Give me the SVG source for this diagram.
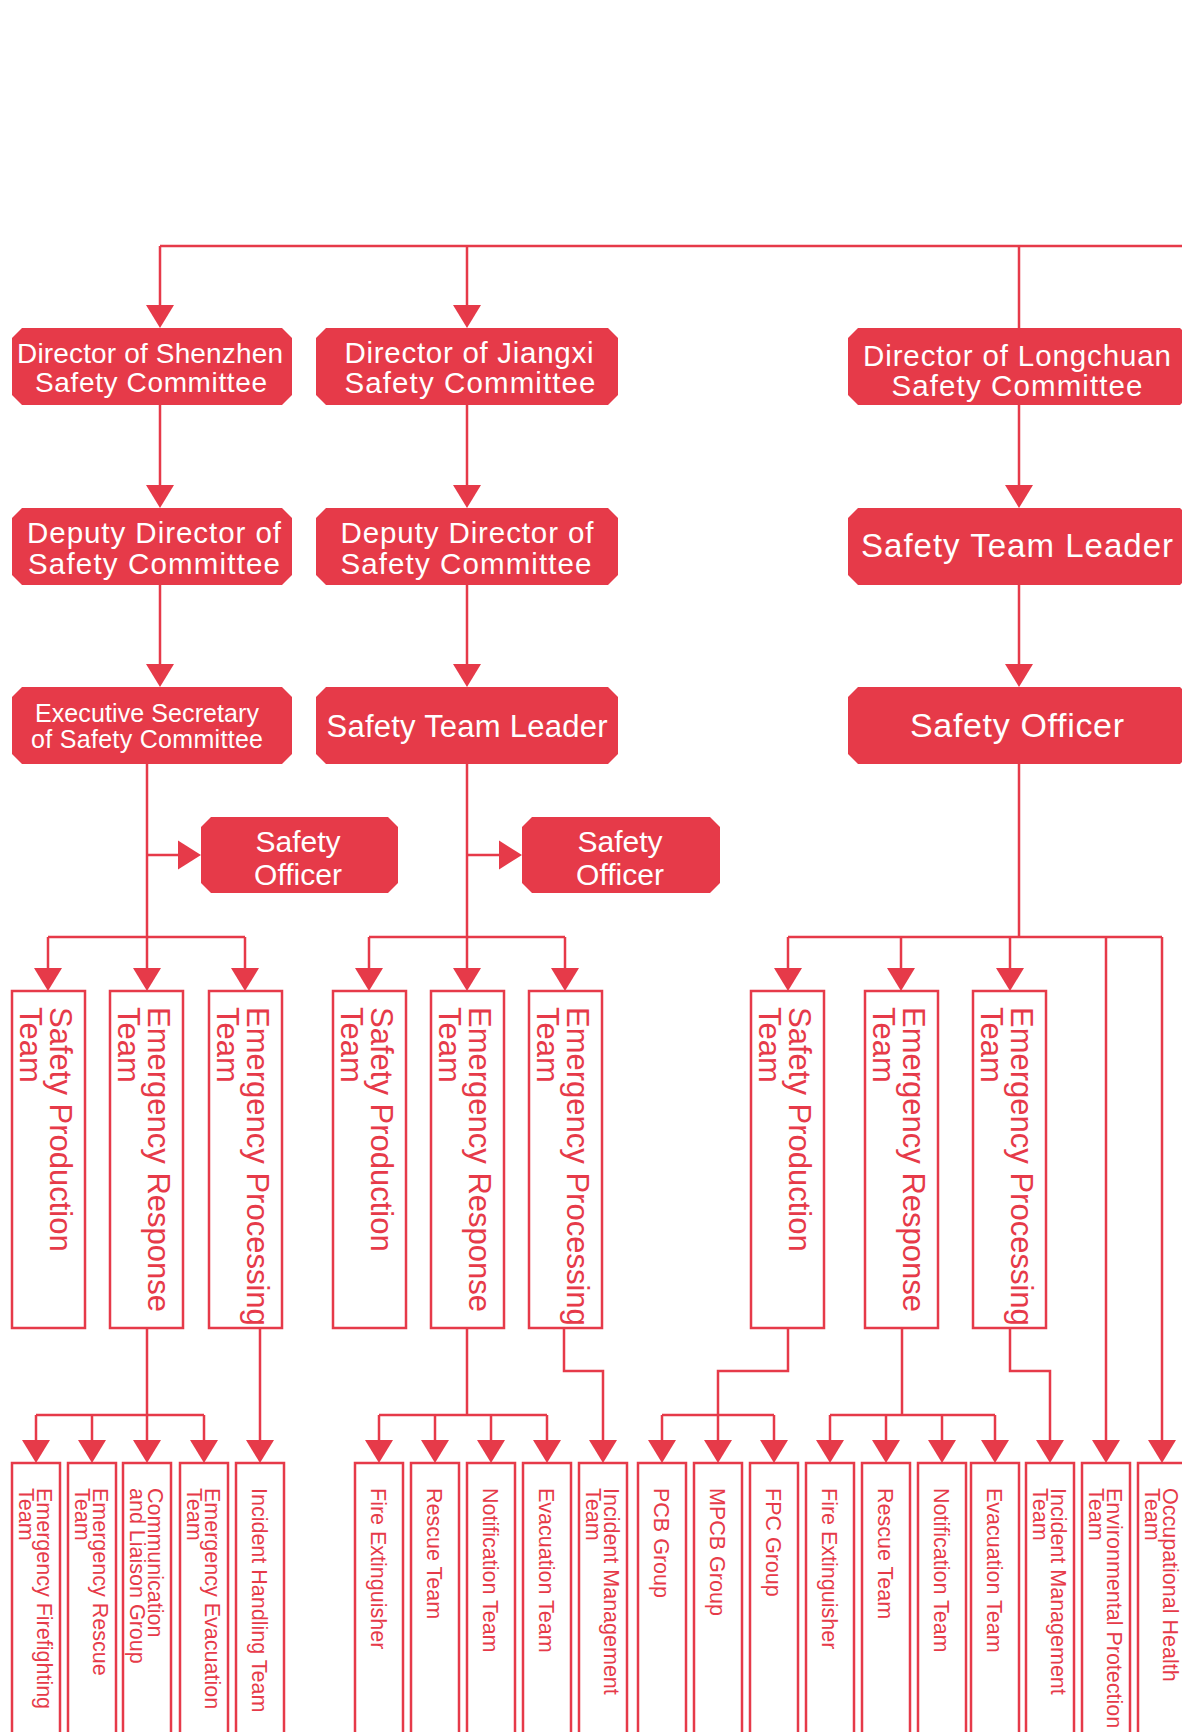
<svg xmlns="http://www.w3.org/2000/svg" xmlns:xlink="http://www.w3.org/1999/xlink" width="1182" height="1732" viewBox="0 0 1182 1732">
  <style>
    .n { fill: #e63a49; }
    .t { fill: #ffffff; font-family: "Liberation Sans", Arial, sans-serif; text-anchor: middle; }
    .b { fill: #ffffff; stroke: #e63a49; stroke-width: 2.5; }
    .v { fill: #e63a49; font-family: "Liberation Sans", Arial, sans-serif; }
    .v4 { font-size: 31px; }
    .v5 { font-size: 21.5px; }
    .ln { fill: none; stroke: #e63a49; stroke-width: 2.5; }
    .ah { fill: #e63a49; }
  </style>
  <defs>
    <path id="ad" d="M-14,-23 L14,-23 L0,0 Z"/>
    <path id="ar" d="M-23,-14.5 L-23,14.5 L0,0 Z"/>
  </defs>
  <rect width="1182" height="1732" fill="#ffffff"/>

  <!-- connectors -->
  <g id="connectors">
    <path class="ln" d="M160,246 H1182 M160,246 V308 M467,246 V308 M1019,246 V328"/>
    <path class="ln" d="M160,405 V488 M467,405 V488 M1019,405 V488"/>
    <path class="ln" d="M160,585 V667 M467,585 V667 M1019,585 V667"/>
    <path class="ln" d="M147,764 V937 M147,855 H180 M48,937 H245 M48,937 V970 M147,937 V970 M245,937 V970"/>
    <path class="ln" d="M467,764 V937 M467,855 H501 M369,937 H565 M369,937 V970 M467,937 V970 M565,937 V970"/>
    <path class="ln" d="M1019,764 V937 M788,937 H1162 M788,937 V970 M901,937 V970 M1010,937 V970 M1106,937 V1442 M1162,937 V1442"/>
    <path class="ln" d="M147,1328 V1442 M36,1415 H204 M36,1415 V1442 M92,1415 V1442 M204,1415 V1442 M260,1328 V1442"/>
    <path class="ln" d="M467,1328 V1415 M379,1415 H547 M379,1415 V1442 M435,1415 V1442 M491,1415 V1442 M547,1415 V1442 M564,1328 V1371 H603 V1442"/>
    <path class="ln" d="M788,1328 V1371 H718 V1415 M662,1415 H774 M662,1415 V1442 M718,1415 V1442 M774,1415 V1442"/>
    <path class="ln" d="M902,1328 V1415 M830,1415 H995 M830,1415 V1442 M886,1415 V1442 M942,1415 V1442 M995,1415 V1442 M1010,1328 V1371 H1050 V1442"/>
    <g class="ah">
      <use xlink:href="#ad" x="160" y="328"/>
      <use xlink:href="#ad" x="467" y="328"/>
      <use xlink:href="#ad" x="160" y="508"/>
      <use xlink:href="#ad" x="467" y="508"/>
      <use xlink:href="#ad" x="1019" y="508"/>
      <use xlink:href="#ad" x="160" y="687"/>
      <use xlink:href="#ad" x="467" y="687"/>
      <use xlink:href="#ad" x="1019" y="687"/>
      <use xlink:href="#ar" x="201" y="855"/>
      <use xlink:href="#ar" x="522" y="855"/>
      <use xlink:href="#ad" x="48" y="991"/>
      <use xlink:href="#ad" x="147" y="991"/>
      <use xlink:href="#ad" x="245" y="991"/>
      <use xlink:href="#ad" x="369" y="991"/>
      <use xlink:href="#ad" x="467" y="991"/>
      <use xlink:href="#ad" x="565" y="991"/>
      <use xlink:href="#ad" x="788" y="991"/>
      <use xlink:href="#ad" x="901" y="991"/>
      <use xlink:href="#ad" x="1010" y="991"/>
      <use xlink:href="#ad" x="36" y="1463"/>
      <use xlink:href="#ad" x="92" y="1463"/>
      <use xlink:href="#ad" x="147" y="1463"/>
      <use xlink:href="#ad" x="204" y="1463"/>
      <use xlink:href="#ad" x="260" y="1463"/>
      <use xlink:href="#ad" x="379" y="1463"/>
      <use xlink:href="#ad" x="435" y="1463"/>
      <use xlink:href="#ad" x="491" y="1463"/>
      <use xlink:href="#ad" x="547" y="1463"/>
      <use xlink:href="#ad" x="603" y="1463"/>
      <use xlink:href="#ad" x="662" y="1463"/>
      <use xlink:href="#ad" x="718" y="1463"/>
      <use xlink:href="#ad" x="774" y="1463"/>
      <use xlink:href="#ad" x="830" y="1463"/>
      <use xlink:href="#ad" x="886" y="1463"/>
      <use xlink:href="#ad" x="942" y="1463"/>
      <use xlink:href="#ad" x="995" y="1463"/>
      <use xlink:href="#ad" x="1050" y="1463"/>
      <use xlink:href="#ad" x="1106" y="1463"/>
      <use xlink:href="#ad" x="1162" y="1463"/>
    </g>
  </g>

  <!-- top tier: committee directors -->
  <g id="dir-shenzhen">
    <polygon class="n" points="22,328 282,328 292,338 292,395 282,405 22,405 12,395 12,338"/>
    <text class="t" font-size="28"><tspan x="150" y="363" textLength="266">Director of Shenzhen</tspan><tspan x="151" y="392" textLength="232">Safety Committee</tspan></text>
  </g>
  <g id="dir-jiangxi">
    <polygon class="n" points="326,328 608,328 618,338 618,395 608,405 326,405 316,395 316,338"/>
    <text class="t" font-size="29.5"><tspan x="469" y="363" textLength="249">Director of Jiangxi</tspan><tspan x="470" y="393" textLength="251">Safety Committee</tspan></text>
  </g>
  <g id="dir-longchuan">
    <polygon class="n" points="858,328 1180,328 1190,338 1190,395 1180,405 858,405 848,395 848,338"/>
    <text class="t" font-size="29.5"><tspan x="1017" y="366" textLength="308">Director of Longchuan</tspan><tspan x="1017" y="396" textLength="251">Safety Committee</tspan></text>
  </g>

  <!-- second tier -->
  <g id="deputy-shenzhen">
    <polygon class="n" points="22,508 282,508 292,518 292,575 282,585 22,585 12,575 12,518"/>
    <text class="t" font-size="29.5"><tspan x="154" y="543" textLength="254">Deputy Director of</tspan><tspan x="154" y="574" textLength="252">Safety Committee</tspan></text>
  </g>
  <g id="deputy-jiangxi">
    <polygon class="n" points="326,508 608,508 618,518 618,575 608,585 326,585 316,575 316,518"/>
    <text class="t" font-size="29.5"><tspan x="467" y="543" textLength="253">Deputy Director of</tspan><tspan x="466" y="574" textLength="251">Safety Committee</tspan></text>
  </g>
  <g id="leader-longchuan">
    <polygon class="n" points="858,508 1180,508 1190,518 1190,575 1180,585 858,585 848,575 848,518"/>
    <text class="t" font-size="33" x="1017" y="557" textLength="312">Safety Team Leader</text>
  </g>

  <!-- third tier -->
  <g id="secretary-shenzhen">
    <polygon class="n" points="22,687 282,687 292,697 292,754 282,764 22,764 12,754 12,697"/>
    <text class="t" font-size="25"><tspan x="147" y="722" textLength="224">Executive Secretary</tspan><tspan x="147" y="748" textLength="232">of Safety Committee</tspan></text>
  </g>
  <g id="leader-jiangxi">
    <polygon class="n" points="326,687 608,687 618,697 618,754 608,764 326,764 316,754 316,697"/>
    <text class="t" font-size="31" x="467" y="737" textLength="281">Safety Team Leader</text>
  </g>
  <g id="officer-longchuan">
    <polygon class="n" points="858,687 1180,687 1190,697 1190,754 1180,764 858,764 848,754 848,697"/>
    <text class="t" font-size="34" x="1017" y="737" textLength="214">Safety Officer</text>
  </g>

  <!-- side safety officers -->
  <g id="officer-shenzhen">
    <polygon class="n" points="211,817 388,817 398,827 398,883 388,893 211,893 201,883 201,827"/>
    <text class="t" font-size="30"><tspan x="298" y="852">Safety</tspan><tspan x="298" y="885">Officer</tspan></text>
  </g>
  <g id="officer-jiangxi">
    <polygon class="n" points="532,817 710,817 720,827 720,883 710,893 532,893 522,883 522,827"/>
    <text class="t" font-size="30"><tspan x="620" y="852">Safety</tspan><tspan x="620" y="885">Officer</tspan></text>
  </g>

  <!-- fourth tier: teams -->
  <g id="sz-production">
    <rect class="b" x="12" y="991" width="73" height="337"/>
    <text class="v v4" transform="translate(50,1007) rotate(90)"><tspan x="0" y="0">Safety Production</tspan><tspan x="0" y="30">Team</tspan></text>
  </g>
  <g id="sz-response">
    <rect class="b" x="110" y="991" width="73" height="337"/>
    <text class="v v4" transform="translate(148,1007) rotate(90)"><tspan x="0" y="0">Emergency Response</tspan><tspan x="0" y="30">Team</tspan></text>
  </g>
  <g id="sz-processing">
    <rect class="b" x="209" y="991" width="73" height="337"/>
    <text class="v v4" transform="translate(247,1007) rotate(90)"><tspan x="0" y="0">Emergency Processing</tspan><tspan x="0" y="30">Team</tspan></text>
  </g>
  <g id="jx-production">
    <rect class="b" x="333" y="991" width="73" height="337"/>
    <text class="v v4" transform="translate(371,1007) rotate(90)"><tspan x="0" y="0">Safety Production</tspan><tspan x="0" y="30">Team</tspan></text>
  </g>
  <g id="jx-response">
    <rect class="b" x="431" y="991" width="73" height="337"/>
    <text class="v v4" transform="translate(469,1007) rotate(90)"><tspan x="0" y="0">Emergency Response</tspan><tspan x="0" y="30">Team</tspan></text>
  </g>
  <g id="jx-processing">
    <rect class="b" x="529" y="991" width="73" height="337"/>
    <text class="v v4" transform="translate(567,1007) rotate(90)"><tspan x="0" y="0">Emergency Processing</tspan><tspan x="0" y="30">Team</tspan></text>
  </g>
  <g id="lc-production">
    <rect class="b" x="751" y="991" width="73" height="337"/>
    <text class="v v4" transform="translate(789,1007) rotate(90)"><tspan x="0" y="0">Safety Production</tspan><tspan x="0" y="30">Team</tspan></text>
  </g>
  <g id="lc-response">
    <rect class="b" x="865" y="991" width="73" height="337"/>
    <text class="v v4" transform="translate(903,1007) rotate(90)"><tspan x="0" y="0">Emergency Response</tspan><tspan x="0" y="30">Team</tspan></text>
  </g>
  <g id="lc-processing">
    <rect class="b" x="973" y="991" width="73" height="337"/>
    <text class="v v4" transform="translate(1011,1007) rotate(90)"><tspan x="0" y="0">Emergency Processing</tspan><tspan x="0" y="30">Team</tspan></text>
  </g>

  <!-- fifth tier: groups (run past the bottom edge) -->
  <g id="sz-firefighting">
    <rect class="b" x="12" y="1463" width="48" height="290"/>
    <text class="v v5" transform="translate(37,1488) rotate(90)"><tspan x="0" y="0">Emergency Firefighting</tspan><tspan x="0" y="18">Team</tspan></text>
  </g>
  <g id="sz-rescue">
    <rect class="b" x="68" y="1463" width="48" height="290"/>
    <text class="v v5" transform="translate(93,1488) rotate(90)"><tspan x="0" y="0">Emergency Rescue</tspan><tspan x="0" y="18">Team</tspan></text>
  </g>
  <g id="sz-liaison">
    <rect class="b" x="123" y="1463" width="48" height="290"/>
    <text class="v v5" transform="translate(148,1488) rotate(90)"><tspan x="0" y="0">Communication</tspan><tspan x="0" y="18">and Liaison Group</tspan></text>
  </g>
  <g id="sz-evacuation">
    <rect class="b" x="180" y="1463" width="48" height="290"/>
    <text class="v v5" transform="translate(205,1488) rotate(90)"><tspan x="0" y="0">Emergency Evacuation</tspan><tspan x="0" y="18">Team</tspan></text>
  </g>
  <g id="sz-handling">
    <rect class="b" x="236" y="1463" width="48" height="290"/>
    <text class="v v5" transform="translate(252,1488) rotate(90)">Incident Handling Team</text>
  </g>
  <g id="jx-extinguisher">
    <rect class="b" x="355" y="1463" width="48" height="290"/>
    <text class="v v5" transform="translate(371,1488) rotate(90)">Fire Extinguisher</text>
  </g>
  <g id="jx-rescue">
    <rect class="b" x="411" y="1463" width="48" height="290"/>
    <text class="v v5" transform="translate(427,1488) rotate(90)">Rescue Team</text>
  </g>
  <g id="jx-notification">
    <rect class="b" x="467" y="1463" width="48" height="290"/>
    <text class="v v5" transform="translate(483,1488) rotate(90)">Notification Team</text>
  </g>
  <g id="jx-evacuation">
    <rect class="b" x="523" y="1463" width="48" height="290"/>
    <text class="v v5" transform="translate(539,1488) rotate(90)">Evacuation Team</text>
  </g>
  <g id="jx-incident">
    <rect class="b" x="579" y="1463" width="48" height="290"/>
    <text class="v v5" transform="translate(604,1488) rotate(90)"><tspan x="0" y="0">Incident Management</tspan><tspan x="0" y="18">Team</tspan></text>
  </g>
  <g id="lc-pcb">
    <rect class="b" x="638" y="1463" width="48" height="290"/>
    <text class="v v5" transform="translate(654,1488) rotate(90)">PCB Group</text>
  </g>
  <g id="lc-mpcb">
    <rect class="b" x="694" y="1463" width="48" height="290"/>
    <text class="v v5" transform="translate(710,1488) rotate(90)">MPCB Group</text>
  </g>
  <g id="lc-fpc">
    <rect class="b" x="750" y="1463" width="48" height="290"/>
    <text class="v v5" transform="translate(766,1488) rotate(90)">FPC Group</text>
  </g>
  <g id="lc-extinguisher">
    <rect class="b" x="806" y="1463" width="48" height="290"/>
    <text class="v v5" transform="translate(822,1488) rotate(90)">Fire Extinguisher</text>
  </g>
  <g id="lc-rescue">
    <rect class="b" x="862" y="1463" width="48" height="290"/>
    <text class="v v5" transform="translate(878,1488) rotate(90)">Rescue Team</text>
  </g>
  <g id="lc-notification">
    <rect class="b" x="918" y="1463" width="48" height="290"/>
    <text class="v v5" transform="translate(934,1488) rotate(90)">Notification Team</text>
  </g>
  <g id="lc-evacuation">
    <rect class="b" x="971" y="1463" width="48" height="290"/>
    <text class="v v5" transform="translate(987,1488) rotate(90)">Evacuation Team</text>
  </g>
  <g id="lc-incident">
    <rect class="b" x="1026" y="1463" width="48" height="290"/>
    <text class="v v5" transform="translate(1051,1488) rotate(90)"><tspan x="0" y="0">Incident Management</tspan><tspan x="0" y="18">Team</tspan></text>
  </g>
  <g id="lc-environment">
    <rect class="b" x="1082" y="1463" width="48" height="290"/>
    <text class="v v5" transform="translate(1107,1488) rotate(90)"><tspan x="0" y="0">Environmental Protection</tspan><tspan x="0" y="18">Team</tspan></text>
  </g>
  <g id="lc-health">
    <rect class="b" x="1138" y="1463" width="48" height="290"/>
    <text class="v v5" transform="translate(1163,1488) rotate(90)"><tspan x="0" y="0">Occupational Health</tspan><tspan x="0" y="18">Team</tspan></text>
  </g>
</svg>
